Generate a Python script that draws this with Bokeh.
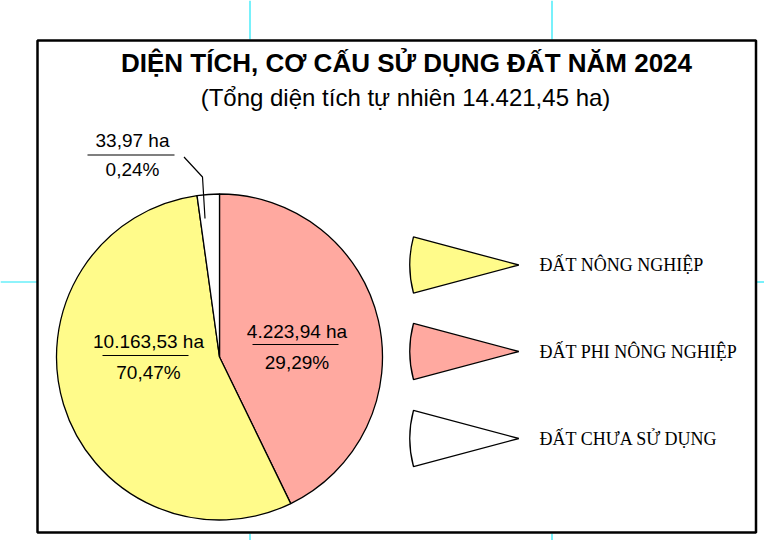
from bokeh.plotting import figure
from bokeh.models import Range1d
from bokeh.core.properties import value
from bokeh.embed import file_html
from bokeh.resources import INLINE

# ---------------- data ----------------
categories = ["ĐẤT NÔNG NGHIỆP", "ĐẤT PHI NÔNG NGHIỆP", "ĐẤT CHƯA SỬ DỤNG"]
area_ha = [10163.53, 4223.94, 33.97]
percent = [70.47, 29.29, 0.24]
# share of the circle as the slices are drawn in the picture (%)
drawn_share = [55.0, 42.8, 2.2]
colors = ["#FFFB8A", "#FFA9A0", "#FFFFFF"]
title_text = "DIỆN TÍCH, CƠ CẤU SỬ DỤNG ĐẤT NĂM 2024"
subtitle_text = "(Tổng diện tích tự nhiên 14.421,45 ha)"
clockwise_order = [1, 0, 2]  # slices from 12 o'clock, clockwise


def vn(x, d=2):
    s = f"{x:,.{d}f}"
    return s.replace(",", "X").replace(".", ",").replace("X", ".")


W, H = 764, 540


def Y(sy):
    return H - sy


p = figure(width=W, height=H, output_backend="svg", toolbar_location=None,
           x_range=Range1d(0, W), y_range=Range1d(0, H),
           min_border=0)
p.axis.visible = False
p.grid.visible = False
p.outline_line_color = None
p.background_fill_color = "white"
p.border_fill_color = "white"

SANS = value("Liberation Sans")
SERIF = value("Liberation Serif")

# guide lines (cyan) and frame
cy = "#1EE8F8"
p.segment(x0=[249.5, 551.5, 249.5, 551.5], y0=[Y(0), Y(0), Y(533), Y(533)],
          x1=[249.5, 551.5, 249.5, 551.5], y1=[Y(39), Y(39), Y(540), Y(540)],
          line_color=cy, line_width=1.2)
p.segment(x0=[0, 756], y0=[Y(281.5), Y(281.5)], x1=[37, 764], y1=[Y(281.5), Y(281.5)],
          line_color=cy, line_width=1.2)
p.quad(left=[37], right=[755.5], top=[Y(40)], bottom=[Y(532)],
       fill_color=None, line_color="black", line_width=2.5)

# title
p.text(x=[406], y=[Y(62)], text=[title_text], text_font=SANS, text_font_style="bold",
       text_font_size="26px", text_align="center", text_baseline="middle", text_color="black")
p.text(x=[405], y=[Y(97)], text=[subtitle_text], text_font=SANS,
       text_font_size="24px", text_align="center", text_baseline="middle", text_color="black")

# pie
cx, cyy, r = 219, Y(356.5), 163
starts, ends, fills = [], [], []
cum = 0.0
for i in clockwise_order:
    a0 = 90 - (cum + drawn_share[i]) * 3.6
    a1 = 90 - cum * 3.6
    starts.append(a0)
    ends.append(a1)
    fills.append(colors[i])
    cum += drawn_share[i]
p.wedge(x=[cx] * 3, y=[cyy] * 3, radius=r, start_angle=starts, end_angle=ends,
        start_angle_units="deg", end_angle_units="deg",
        fill_color=fills, line_color="black", line_width=1.3)

# slice labels
lab_pos = {0: (148, 341, 372, 102, 188, 355),
           1: (296.5, 330.5, 361.5, 252, 338, 344),
           2: (132, 140, 169, 87, 174, 154.5)}
for i in range(3):
    x, ya, yb, lx0, lx1, ly = lab_pos[i]
    p.text(x=[x], y=[Y(ya)], text=[vn(area_ha[i]) + " ha"], text_font=SANS,
           text_font_size="19px", text_align="center", text_baseline="middle", text_color="black")
    p.text(x=[x], y=[Y(yb)], text=[vn(percent[i]) + "%"], text_font=SANS,
           text_font_size="19px", text_align="center", text_baseline="middle", text_color="black")
    p.segment(x0=[lx0], y0=[Y(ly)], x1=[lx1], y1=[Y(ly)], line_color="black", line_width=1.2)

# leader line for the small slice
p.line(x=[183.5, 202, 204.5], y=[Y(156.5), Y(176.5), Y(218)], line_color="black", line_width=1.2)

# legend
rows = [264.5, 351, 438]
for k, i in enumerate(range(3)):
    p.wedge(x=[518.3], y=[Y(rows[k])], radius=109, start_angle=165.1, end_angle=194.9,
            start_angle_units="deg", end_angle_units="deg",
            fill_color=colors[i], line_color="black", line_width=1.3)
    p.text(x=[539], y=[Y(rows[k])], text=[categories[i]], text_font=SERIF,
           text_font_size="18px", text_align="left", text_baseline="middle", text_color="black")

open("out.html", "w").write(file_html(p, INLINE))
